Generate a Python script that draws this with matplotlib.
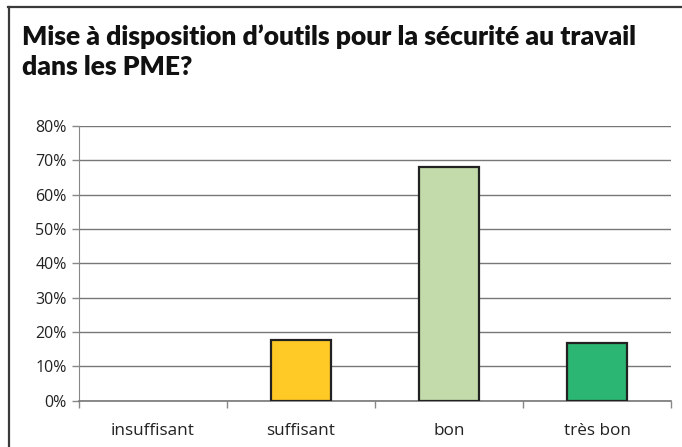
import matplotlib.pyplot as plt
from matplotlib.lines import Line2D
from matplotlib.ticker import MultipleLocator, PercentFormatter

# Données
categories = ['insuffisant', 'suffisant', 'bon', 'très bon']
valeurs = [0.0, 17.7, 68.2, 16.7]
couleurs = ['#FFFFFF', '#FFC926', '#C3DAAB', '#2BB673']

W, H = 682, 447
fig = plt.figure(figsize=(W / 100, H / 100), dpi=100)

# Cadre (haut et gauche)
fig.add_artist(Line2D([8 / W, 1], [1 - 7 / H, 1 - 7 / H], color='#3a3a3a', lw=1.6,
                      transform=fig.transFigure))
fig.add_artist(Line2D([9 / W, 9 / W], [0, 1 - 7 / H], color='#3a3a3a', lw=1.6,
                      transform=fig.transFigure))

titre = fig.text(22 / W, 1 - 24 / H,
                 "Mise à disposition d’outils pour la sécurité au travail\ndans les PME?",
                 ha='left', va='top', fontsize=19, fontweight='heavy',
                 family=['Lato', 'DejaVu Sans'], color='#111111',
                 linespacing=1.3)

ax = fig.add_axes([79 / W, (H - 400.7) / H, (671 - 79) / W, (400.7 - 126) / H])
x = range(len(categories))
largeurs = [1.6 if v > 0 else 0 for v in valeurs]
ax.bar(x, valeurs, width=0.4, color=couleurs, edgecolor='#222222', linewidth=largeurs, zorder=3)

ax.set_xlim(-0.5, 3.5)
ax.set_ylim(0, 80)
ax.yaxis.set_major_locator(MultipleLocator(10))
ax.yaxis.set_major_formatter(PercentFormatter(decimals=0))
ax.grid(axis='y', color='#777777', linewidth=1.0, zorder=0)
ax.set_axisbelow(True)

ax.set_xticks([-0.5, 0.5, 1.5, 2.5, 3.5])
ax.set_xticklabels([])
ax.set_xticks(list(x), minor=True)
ax.set_xticklabels(categories, minor=True)
ax.tick_params(axis='x', which='minor', length=0, pad=16, labelsize=12.3, labelcolor='#222222')
ax.tick_params(axis='x', which='major', length=5, color='#888888', width=1)
ax.tick_params(axis='y', length=5, color='#888888', width=1, labelsize=11.5, labelcolor='#222222', pad=4)

for s in ['top', 'right']:
    ax.spines[s].set_visible(False)
ax.spines['left'].set_color('#888888')
ax.spines['bottom'].set_color('#777777')
ax.spines['bottom'].set_linewidth(1.2)

for t in ax.get_xticklabels(minor=True) + ax.get_yticklabels():
    t.set_family(['Open Sans', 'DejaVu Sans'])

fig.savefig('out.png', dpi=100)
